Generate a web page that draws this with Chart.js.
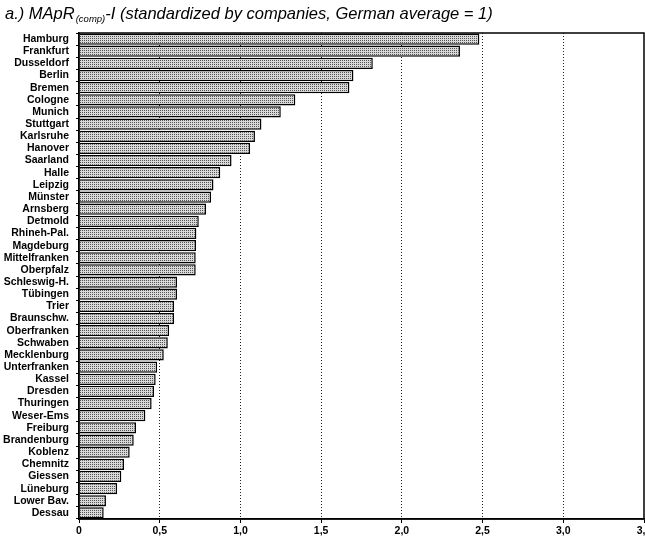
<!DOCTYPE html>
<html>
<head>
<meta charset="utf-8">
<script src="https://cdn.jsdelivr.net/npm/chart.js@4/dist/chart.umd.min.js"></script>
<style>
  html, body { margin: 0; padding: 0; background: #fff; width: 645px; height: 538px; overflow: hidden; }
  canvas { display: block; }
</style>
</head>
<body>
<canvas id="chart" width="670" height="538" style="width:670px;height:538px"></canvas>
<script>
// Regions, sorted from highest to lowest index value
const regions = [
  'Hamburg', 'Frankfurt', 'Dusseldorf', 'Berlin', 'Bremen', 'Cologne', 'Munich',
  'Stuttgart', 'Karlsruhe', 'Hanover', 'Saarland', 'Halle', 'Leipzig', 'Münster',
  'Arnsberg', 'Detmold', 'Rhineh-Pal.', 'Magdeburg', 'Mittelfranken', 'Oberpfalz',
  'Schleswig-H.', 'Tübingen', 'Trier', 'Braunschw.', 'Oberfranken', 'Schwaben',
  'Mecklenburg', 'Unterfranken', 'Kassel', 'Dresden', 'Thuringen', 'Weser-Ems',
  'Freiburg', 'Brandenburg', 'Koblenz', 'Chemnitz', 'Giessen', 'Lüneburg',
  'Lower Bav.', 'Dessau'
];

// MApR(comp)-I, standardized by companies (German average = 1)
const indexValues = [
  2.48, 2.36, 1.82, 1.70, 1.675, 1.34, 1.25,
  1.13, 1.09, 1.06, 0.945, 0.875, 0.833, 0.818,
  0.787, 0.742, 0.727, 0.725, 0.723, 0.723,
  0.607, 0.607, 0.589, 0.589, 0.558, 0.55,
  0.525, 0.484, 0.475, 0.465, 0.45, 0.411,
  0.353, 0.339, 0.314, 0.279, 0.262, 0.236,
  0.167, 0.153
];

// Value axis ticks and their printed labels (decimal comma)
const xTickValues = [0, 0.5, 1.0, 1.5, 2.0, 2.5, 3.0, 3.5];
const xTickLabels = ['0', '0,5', '1,0', '1,5', '2,0', '2,5', '3,0', '3,5'];

const titleParts = ['a.) MApR', '(comp)', '-I (standardized by companies, German average = 1)'];

// Stippled grey fill for the bars
function stipplePattern(ctx) {
  const p = document.createElement('canvas');
  p.width = 2; p.height = 2;
  const g = p.getContext('2d');
  g.fillStyle = '#d8d8d8';
  g.fillRect(0, 0, 2, 2);
  g.fillStyle = '#555';
  g.fillRect(0, 0, 1, 1);
  return ctx.createPattern(p, 'repeat');
}

const canvas = document.getElementById('chart');
const ctx = canvas.getContext('2d');

// Title with subscript, drawn above the plot
const titlePlugin = {
  id: 'subscriptTitle',
  afterDraw(chart) {
    const c = chart.ctx;
    c.save();
    c.fillStyle = '#000';
    c.textBaseline = 'alphabetic';
    c.textAlign = 'left';
    const y = 19;
    let x = 5;
    c.font = 'italic 16.5px "Liberation Sans", Arial, sans-serif';
    c.fillText(titleParts[0], x, y);
    x += c.measureText(titleParts[0]).width + 1;
    c.font = 'italic 9.5px "Liberation Sans", Arial, sans-serif';
    c.fillText(titleParts[1], x, y + 3);
    x += c.measureText(titleParts[1]).width;
    c.font = 'italic 16.5px "Liberation Sans", Arial, sans-serif';
    c.fillText(titleParts[2], x, y);
    c.restore();
  }
};

// Solid frame around the plot area
const framePlugin = {
  id: 'plotFrame',
  afterDraw(chart) {
    const a = chart.chartArea;
    const c = chart.ctx;
    c.save();
    c.strokeStyle = '#000';
    c.lineWidth = 1.5;
    c.strokeRect(a.left, a.top, a.right - a.left, a.bottom - a.top);
    c.restore();
  }
};

new Chart(ctx, {
  type: 'bar',
  data: {
    labels: regions,
    datasets: [{
      data: indexValues,
      backgroundColor: stipplePattern(ctx),
      borderColor: '#000',
      borderWidth: 1.5,
      barPercentage: 0.93,
      categoryPercentage: 1.0
    }]
  },
  options: {
    indexAxis: 'y',
    responsive: false,
    animation: false,
    devicePixelRatio: 1,
    layout: { padding: { top: 33, right: 26, left: 0, bottom: 0 } },
    plugins: {
      legend: { display: false },
      title: { display: false },
      tooltip: { enabled: false }
    },
    scales: {
      x: {
        type: 'linear',
        min: 0,
        max: 3.5,
        z: 1,
        afterFit(scale) { scale.height = 19; },
        afterBuildTicks(scale) {
          scale.ticks = xTickValues.map(v => ({ value: v }));
        },
        ticks: {
          color: '#000',
          padding: 2,
          maxRotation: 0,
          font: { family: '"Liberation Sans", Arial, sans-serif', size: 10.5, weight: 'bold' },
          callback(value) {
            const i = xTickValues.indexOf(value);
            return i >= 0 ? xTickLabels[i] : '';
          }
        },
        grid: {
          color(ctx) {
            const v = ctx.tick ? ctx.tick.value : null;
            return (v === 0 || v === 3.5) ? 'rgba(0,0,0,0)' : '#222';
          },
          lineWidth: 1,
          drawTicks: true,
          tickLength: 4,
          tickColor: '#000'
        },
        border: { display: true, color: '#000', width: 1.5, dash: [1, 2] }
      },
      y: {
        afterFit(scale) { scale.width = 79; },
        ticks: {
          color: '#000',
          padding: 7,
          autoSkip: false,
          font: { family: '"Liberation Sans", Arial, sans-serif', size: 10.5, weight: 'bold' }
        },
        grid: {
          offset: true,
          drawOnChartArea: false,
          drawTicks: true,
          tickLength: 3,
          color: '#000'
        },
        border: { display: true, color: '#000', width: 1.5 }
      }
    }
  },
  plugins: [titlePlugin, framePlugin]
});
</script>
</body>
</html>
